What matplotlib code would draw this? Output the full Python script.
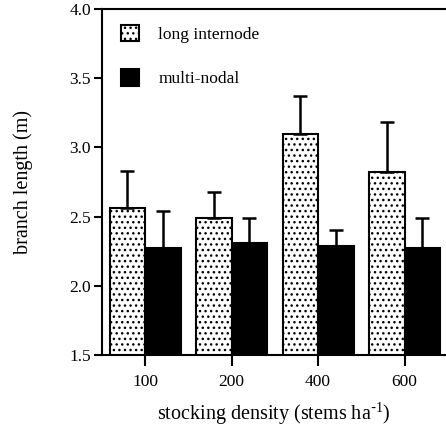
import matplotlib
matplotlib.use("Agg")
import matplotlib.pyplot as plt
import numpy as np

# stocking density classes (stems ha-1)
densities = ["100", "200", "400", "600"]

# mean branch length (m) and upper error (m)
long_internode = [2.56, 2.49, 3.10, 2.82]
long_internode_err = [0.27, 0.19, 0.27, 0.36]
multi_nodal = [2.27, 2.31, 2.29, 2.27]
multi_nodal_err = [0.27, 0.18, 0.11, 0.22]

plt.rcParams['font.family'] = ['Liberation Serif', 'DejaVu Serif']
plt.rcParams['hatch.linewidth'] = 1.0

fig = plt.figure(figsize=(4.46, 4.36), dpi=100)
ax = fig.add_axes([0.2287, 0.1858, 0.7713, 0.7936])

x = np.arange(len(densities))
w = 0.41

b1 = ax.bar(x - w / 2, long_internode, w, color='white', edgecolor='black',
            hatch='...', linewidth=1.5, label='long internode')
b2 = ax.bar(x + w / 2, multi_nodal, w, color='black', edgecolor='black',
            linewidth=1.5, label='multi-nodal')

ax.errorbar(x - w / 2, long_internode, yerr=[np.zeros(4), long_internode_err],
            fmt='none', ecolor='black', elinewidth=1.8, capsize=5, capthick=1.8)
ax.errorbar(x + w / 2, multi_nodal, yerr=[np.zeros(4), multi_nodal_err],
            fmt='none', ecolor='black', elinewidth=1.8, capsize=5, capthick=1.8)

ax.set_ylim(1.5, 4.0)
ax.set_xlim(-0.5, 3.48)
ax.set_yticks([1.5, 2.0, 2.5, 3.0, 3.5, 4.0])
ax.set_yticklabels(["1.5", "2.0", "2.5", "3.0", "3.5", "4.0"])
ax.set_xticks(x)
ax.set_xticklabels(densities)

ax.spines['right'].set_visible(False)
for s in ['left', 'bottom', 'top']:
    ax.spines[s].set_linewidth(1.5)

ax.tick_params(axis='y', direction='out', length=6, width=1.5, labelsize=12.5, pad=2)
ax.tick_params(axis='x', direction='out', length=8, width=1.5, labelsize=12.5, pad=6)

ax.set_ylabel("branch length (m)", fontsize=14.5, labelpad=26)
ax.set_xlabel("stocking density (stems ha$^{\\mathregular{\\text{-}1}}$)", fontsize=14.5, labelpad=7)

ax.legend(handles=[b1, b2], loc='upper left', frameon=False, fontsize=12.5,
          handlelength=1.05, handleheight=1.05, labelspacing=1.55, handletextpad=1.1,
          bbox_to_anchor=(0.01, 1.0))

fig.savefig("out.png", dpi=100)
